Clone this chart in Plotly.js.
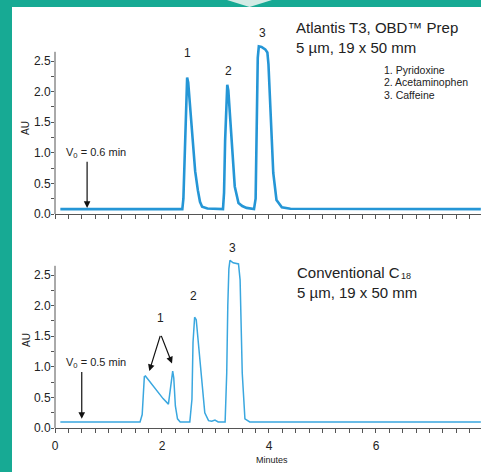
<!DOCTYPE html>
<html>
<head>
<meta charset="utf-8">
<script src="https://cdn.plot.ly/plotly-3.0.1.min.js"></script>
<style>html,body{margin:0;padding:0;background:#fff;}#chart{width:481px;height:472px;}</style>
</head>
<body>
<div id="chart"></div>
<script>
// ---- Data ----
const timeTop = [0.10, 2.38, 2.40, 2.42, 2.44, 2.46, 2.47, 2.49, 2.52, 2.57, 2.62, 2.67, 2.71, 2.75, 2.85, 3.14, 3.16, 3.18, 3.20, 3.22, 3.24, 3.27, 3.30, 3.36, 3.43, 3.50, 3.58, 3.72, 3.75, 3.77, 3.79, 3.81, 3.86, 3.93, 3.97, 3.99, 4.02, 4.05, 4.08, 4.14, 4.24, 4.40, 7.96];
const auTop   = [0.08, 0.08, 0.25, 0.90, 1.70, 2.15, 2.23, 2.15, 1.80, 1.21, 0.70, 0.39, 0.20, 0.12, 0.09, 0.08, 0.35, 1.20, 1.85, 2.11, 2.02, 1.60, 1.21, 0.45, 0.18, 0.13, 0.10, 0.08, 0.25, 1.20, 2.55, 2.74, 2.73, 2.69, 2.64, 2.45, 1.75, 1.05, 0.67, 0.23, 0.11, 0.085, 0.08];

const timeBottom = [0.10, 1.59, 1.63, 1.65, 1.67, 1.69, 1.78, 1.90, 2.02, 2.12, 2.15, 2.18, 2.20, 2.22, 2.25, 2.29, 2.34, 2.52, 2.56, 2.58, 2.61, 2.64, 2.69, 2.74, 2.80, 2.87, 2.93, 2.99, 3.05, 3.18, 3.21, 3.23, 3.25, 3.27, 3.33, 3.43, 3.46, 3.50, 3.55, 3.64, 7.96];
const auBottom   = [0.10, 0.10, 0.22, 0.60, 0.84, 0.85, 0.75, 0.61, 0.48, 0.39, 0.60, 0.88, 0.93, 0.82, 0.36, 0.15, 0.10, 0.10, 0.47, 1.40, 1.81, 1.77, 1.28, 0.74, 0.25, 0.12, 0.11, 0.13, 0.10, 0.10, 0.90, 2.00, 2.60, 2.74, 2.70, 2.68, 2.42, 0.90, 0.15, 0.10, 0.10];

const xTickVals = [0, 2, 4, 6];
const xTickText = ['0', '2', '4', '6'];
const yTickVals = [0, 0.5, 1.0, 1.5, 2.0, 2.5];
const yTickText = ['0.0', '0.5', '1.0', '1.5', '2.0', '2.5'];
const yMinorVals = [0.25, 0.75, 1.25, 1.75, 2.25];
const peakLabels = ['1', '2', '3'];
const compoundNames = ['1. Pyridoxine', '2. Acetaminophen', '3. Caffeine'];
const voidTop = 0.6;
const voidBottom = 0.5;

// ---- helpers (pixel -> paper) ----
const W = 481, H = 472;
const px = x => x / W;
const py = y => 1 - y / H;

const FONT = 'Liberation Sans, Arial, Helvetica, sans-serif';
const TXT = '#222';
const AXC = '#555';
const TEAL = '#17aa94';

const xRange = [0, 7.963];
const yRange = [0, 2.9];
const axisTop = 2.65;

function xAxis(anchor, showLabels) {
  return {
    anchor: anchor, domain: [px(55), 1], range: xRange,
    showgrid: false, zeroline: false, showline: true, linecolor: AXC, linewidth: 1,
    ticks: 'outside', ticklen: 4, tickcolor: AXC, tickwidth: 1,
    tickvals: xTickVals, ticktext: xTickText, showticklabels: showLabels,
    ticklabelstandoff: 3,
    tickfont: {family: FONT, size: 12, color: TXT},
    minor: {dtick: 0.25, tick0: 0, ticks: 'outside', ticklen: 4, tickcolor: AXC, tickwidth: 1, showgrid: false},
    fixedrange: true
  };
}
function yAxis(anchor, domain) {
  return {
    anchor: anchor, domain: domain, range: yRange,
    showgrid: false, zeroline: false, showline: false,
    ticks: 'outside', ticklen: 3, tickcolor: AXC, tickwidth: 1,
    tickvals: yTickVals, ticktext: yTickText,
    ticklabelstandoff: -2,
    tickfont: {family: FONT, size: 12, color: TXT},
    minor: {tickvals: yMinorVals, ticks: 'outside', ticklen: 3, tickcolor: AXC, tickwidth: 1, showgrid: false},
    fixedrange: true
  };
}

const traces = [
  {x: timeTop, y: auTop, xaxis: 'x', yaxis: 'y', type: 'scatter', mode: 'lines',
   line: {color: '#2596d6', width: 2.6}, hoverinfo: 'skip', showlegend: false},
  {x: timeBottom, y: auBottom, xaxis: 'x2', yaxis: 'y2', type: 'scatter', mode: 'lines',
   line: {color: '#3aa7df', width: 1.5}, hoverinfo: 'skip', showlegend: false}
];

function txt(x, y, text, size, opts) {
  return Object.assign({xref: 'paper', yref: 'paper', x: px(x), y: py(y), text: text, showarrow: false,
    xanchor: 'left', yanchor: 'middle', font: {family: FONT, size: size, color: TXT}}, opts || {});
}
function arrow(xa, ya, x, y, axv, ayv) {
  return {xref: xa, yref: ya, axref: xa, ayref: ya, x: x, y: y, ax: axv, ay: ayv, text: '',
    showarrow: true, arrowhead: 2, arrowsize: 1.1, arrowwidth: 1.2, arrowcolor: '#111'};
}

const annotations = [
  // top panel
  txt(294, 28, 'Atlantis T3, OBD\u2122 Prep', 15),
  txt(294, 48, '5 \u00b5m, 19 x 50 mm', 15),
  txt(382, 70, compoundNames[0], 10.5),
  txt(382, 82, compoundNames[1], 10.5),
  txt(382, 95, compoundNames[2], 10.5),
  txt(187, 53, peakLabels[0], 12, {xanchor: 'center'}),
  txt(228, 71, peakLabels[1], 12, {xanchor: 'center'}),
  txt(262, 33, peakLabels[2], 12, {xanchor: 'center'}),
  txt(64, 153, 'V<sub>0</sub> = 0.6 min', 11),
  arrow('x', 'y', voidTop, 0.10, voidTop, 0.88),
  txt(26, 128, 'AU', 10, {xanchor: 'center', textangle: -90}),
  // bottom panel
  txt(295, 272, 'Conventional C', 15),
  txt(399, 276, '18', 9),
  txt(295, 292, '5 \u00b5m, 19 x 50 mm', 15),
  txt(160, 318, peakLabels[0], 12, {xanchor: 'center'}),
  txt(193, 296, peakLabels[1], 12, {xanchor: 'center'}),
  txt(232, 248, peakLabels[2], 12, {xanchor: 'center'}),
  arrow('x2', 'y2', 1.763, 0.93, 1.976, 1.53),
  arrow('x2', 'y2', 2.187, 1.055, 1.976, 1.53),
  txt(64, 363, 'V<sub>0</sub> = 0.5 min', 11),
  arrow('x2', 'y2', voidBottom, 0.15, voidBottom, 0.94),
  txt(26, 340, 'AU', 10, {xanchor: 'center', textangle: -90}),
  txt(272, 460, 'Minutes', 9, {xanchor: 'center'})
];

const shapes = [
  // teal frame
  {type: 'rect', xref: 'paper', yref: 'paper', x0: 0, x1: px(12), y0: 0, y1: 1, fillcolor: TEAL, line: {width: 0}, layer: 'below'},
  {type: 'rect', xref: 'paper', yref: 'paper', x0: 0, x1: 1, y0: py(7), y1: 1, fillcolor: TEAL, line: {width: 0}, layer: 'below'},
  {type: 'path', xref: 'paper', yref: 'paper', path: `M ${px(227)} 1 L ${px(272)} 1 L ${px(249.5)} ${py(7)} Z`, fillcolor: '#d3ebe5', line: {width: 0}, layer: 'below'},
  // y axis lines (stop at top of scale)
  {type: 'line', xref: 'paper', yref: 'y', x0: px(55), x1: px(55), y0: 0, y1: axisTop, line: {color: AXC, width: 1}},
  {type: 'line', xref: 'paper', yref: 'y2', x0: px(55), x1: px(55), y0: 0, y1: axisTop, line: {color: AXC, width: 1}}
];

const layout = {
  width: W, height: H, margin: {l: 0, r: 0, t: 0, b: 0},
  paper_bgcolor: '#ffffff', plot_bgcolor: 'rgba(0,0,0,0)',
  showlegend: false,
  xaxis: xAxis('y', false),
  yaxis: yAxis('x', [py(214), py(214 - 2.9 * 61.2)]),
  xaxis2: xAxis('y2', true),
  yaxis2: yAxis('x2', [py(428), py(428 - 2.9 * 61.2)]),
  annotations: annotations,
  shapes: shapes,
  font: {family: FONT, color: TXT}
};

Plotly.newPlot('chart', traces, layout, {displayModeBar: false, staticPlot: true});
</script>
</body>
</html>
